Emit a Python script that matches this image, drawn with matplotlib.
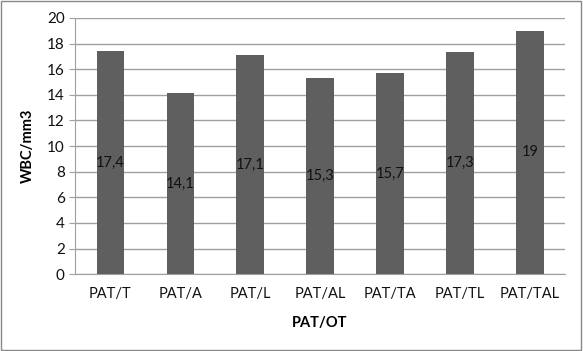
import matplotlib
matplotlib.use("Agg")
import matplotlib.pyplot as plt
from matplotlib.patches import Rectangle

plt.rcParams['font.family'] = ['Lato', 'DejaVu Sans']

groups = ['PAT/T', 'PAT/A', 'PAT/L', 'PAT/AL', 'PAT/TA', 'PAT/TL', 'PAT/TAL']
wbc = [17.4, 14.1, 17.1, 15.3, 15.7, 17.3, 19]
value_labels = ['17,4', '14,1', '17,1', '15,3', '15,7', '17,3', '19']

fig = plt.figure(figsize=(5.83, 3.51), dpi=100)
ax = fig.add_axes([0.129, 0.219, 0.840, 0.730])

# outer border of the chart
fig.patches.append(Rectangle((0.002, 0.003), 0.995, 0.993, transform=fig.transFigure,
                             fill=False, edgecolor='#888888', linewidth=1))

x = range(len(groups))
ax.bar(x, wbc, width=0.39, color='#5f5f5f', zorder=3)
for xi, v, lab in zip(x, wbc, value_labels):
    ax.text(xi, v / 2, lab, ha='center', va='center', fontsize=10.5, color='#111111', zorder=4)

ax.set_xlim(-0.5, len(groups) - 0.5)
ax.set_ylim(0, 20)
ax.set_yticks(range(0, 21, 2))
ax.set_xticks(list(x))
ax.set_xticklabels(groups)
ax.yaxis.grid(True, color='#a0a0a0', linewidth=1, zorder=0)
ax.tick_params(axis='x', length=0, labelsize=10.5, pad=9, labelcolor='#111111')
ax.tick_params(axis='y', length=4, color='#a0a0a0', labelsize=11, labelcolor='#111111')
for s in ['top', 'right']:
    ax.spines[s].set_visible(False)
ax.spines['left'].set_color('#a0a0a0')
ax.spines['bottom'].set_color('#a0a0a0')

ax.set_xlabel('PAT/OT', fontweight='bold', fontsize=10.5, labelpad=11)
ax.set_ylabel('WBC/mm3', fontweight='bold', fontsize=10.5, labelpad=9)

fig.savefig('out.png', dpi=100)
